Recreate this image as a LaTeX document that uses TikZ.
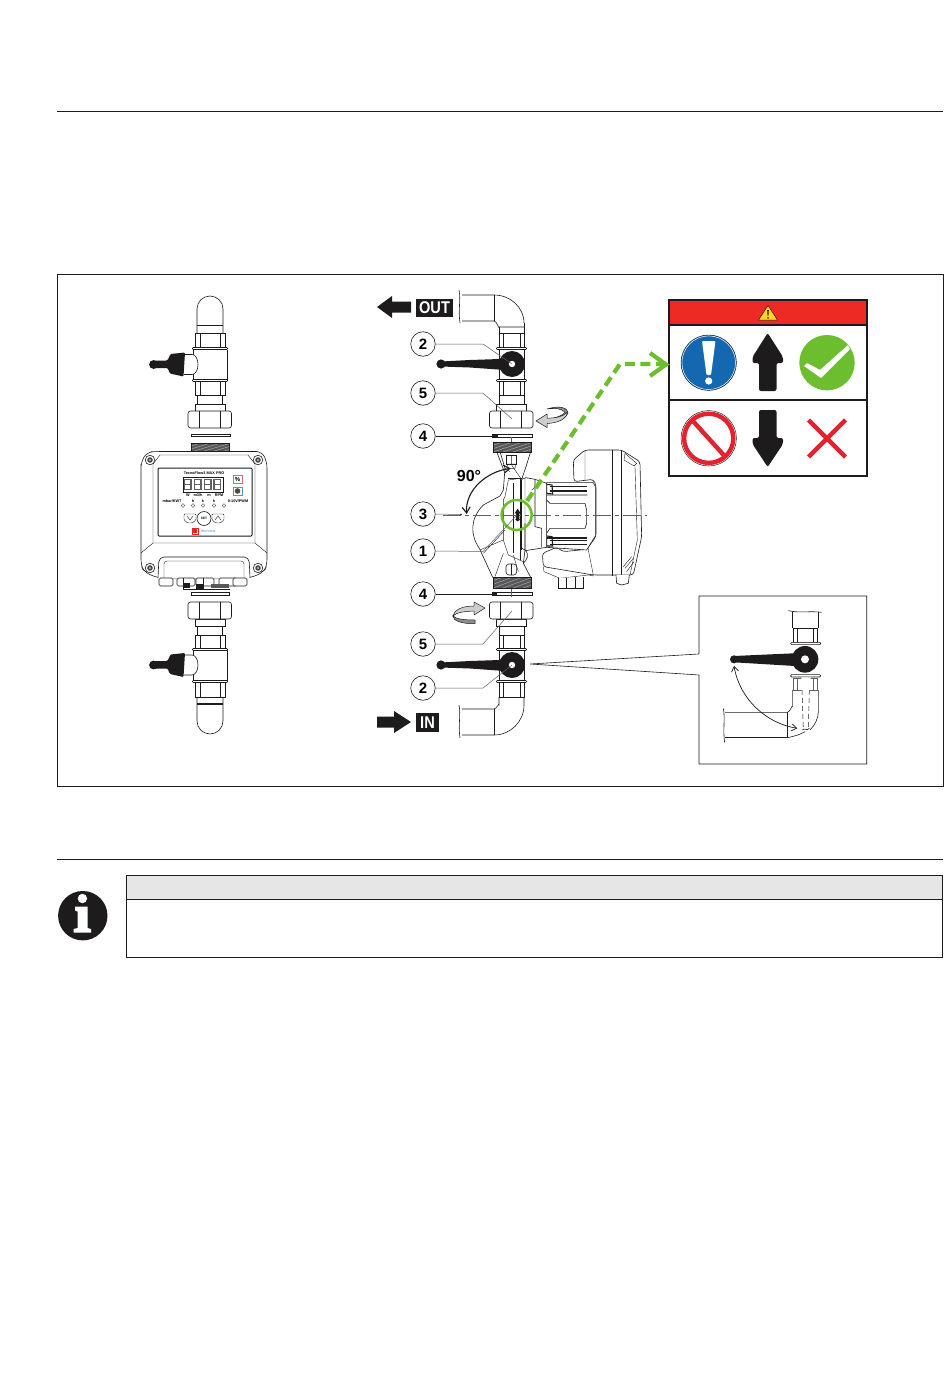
\documentclass[tikz,border=0pt]{standalone}
\usepackage{fontspec}
\setmainfont{Liberation Sans}
\usetikzlibrary{calc,arrows.meta}
\definecolor{gg}{HTML}{6CBE2E}
\definecolor{rr}{HTML}{EE2A24}
\definecolor{xr}{HTML}{E4222D}
\definecolor{bb}{HTML}{1468B0}
\definecolor{kk}{HTML}{1E1B1C}
\definecolor{thr}{HTML}{57575A}
\definecolor{yy}{HTML}{FFD420}
\tikzset{
  ln/.style={draw=kk,line width=0.6pt},
  thin1/.style={draw=kk,line width=0.4pt},
  frame1/.style={draw=kk,line width=0.8pt},
  leader/.style={draw=kk!70,line width=0.5pt},
  leaderk/.style={draw=kk,line width=0.6pt},
  callout/.style={circle,draw=kk,line width=0.6pt,fill=white,minimum size=24.5pt,inner sep=0pt,font=\bfseries\fontsize{15}{15}\selectfont},
  lab/.style={fill=kk,text=white,inner sep=0pt,font=\bfseries\fontsize{17}{17}\selectfont},
  devtxt/.style={inner sep=0pt,font=\bfseries\fontsize{3.8}{4}\selectfont},
}
% mirrored stack: #1 centre x, #2 yscale, #3 nut half width, #4 nut inner line, #5 body half width, #6 ring half width
\newcommand{\pipestack}[6]{%
 \begin{scope}[shift={(#1,515)},yscale=#2]
  \draw[ln,fill=white] (-#3,-182) rectangle (#3,-167);
  \draw[ln] (-#4,-182) -- (-#4,-167) (#4,-182) -- (#4,-167);
  \draw[ln] (-#5,-165.5) -- (-#5,-135) (#5,-165.5) -- (#5,-135);
  \draw[ln,fill=white] (-#3,-134) rectangle (#3,-120);
  \draw[ln] (-#4,-134) -- (-#4,-120) (#4,-134) -- (#4,-120);
  \draw[ln,fill=white,rounded corners=0.8pt] (-#6,-167.5) rectangle (#6,-165.5);
  \draw[ln,fill=white,rounded corners=0.8pt] (-#6,-135.5) rectangle (#6,-133.5);
  \draw[ln,fill=white] (-12.5,-120) rectangle (12.5,-111);
  \draw[ln,fill=white] (-15,-111) rectangle (15,-104);
  \draw[ln,fill=white,rounded corners=2.5pt] (-22,-104) rectangle (21.5,-87);
  \draw[ln] (-11,-104) -- (-11,-87) (10,-104) -- (10,-87);
 \end{scope}}
\newcommand{\thread}[4]{%
 \begin{scope}
  \clip (#1,#3) rectangle (#2,#4);
  \fill[thr] (#1,#3) rectangle (#2,#4);
  \foreach \d in {-20,-10,...,50}{
   \draw[kk!40,line width=0.5pt] ($(#1,#4)+(\d,0)$) -- ($(#1,#3)+(\d+30,0)$);}
 \end{scope}
 \draw[ln] (#1,#3) rectangle (#2,#4);}
\newcommand{\gasket}[3]{\draw[ln,fill=white] (#1,#3) rectangle (#2,#3+2.5);}
\newcommand{\mainhandle}[1]{%
 \fill[kk] (512,#1) circle (13);
 \fill[kk] (441,#1) circle (4.6);
 \fill[kk] (441,#1-2.5) -- (470,#1-4) -- (500,#1-5) -- (505,#1+6) -- (470,#1+3.5) -- (441,#1+2.5) -- cycle;
 \fill[white] (512,#1) circle (3.2);}
\newcommand{\sidehandle}[1]{%
 \begin{scope}[shift={(0,#1)}]
 \draw[ln,fill=white] (184,-10) -- (192,-10) arc (-90:90:6 and 10) -- (184,10);
 \fill[kk] (153.5,0) circle (4.4);
 \fill[kk,rounded corners=1pt] (153,-3.8) -- (167,-4) -- (168,-5) -- (170.5,-10.5) -- (185,-12) -- (183.5,12) -- (170,9) -- (167.5,3.5) -- (153,3.8) -- cycle;
 \end{scope}}
\begin{document}
\begin{tikzpicture}[x=1pt,y=-1pt]
\useasboundingbox (0,0) rectangle (950,1378);
\fill[white] (0,0) rectangle (950,1378);
% page rules and frames
\draw[frame1] (57,111) coordinate (r1a) -- (943,111) coordinate (r1b);
\draw[frame1] (57,859) coordinate (r2a) -- (943,859) coordinate (r2b);
\draw[draw=kk,line width=0.6pt] (57,274.5) rectangle (943,786.5);
\draw[frame1,fill=kk!11] (126.5,875) rectangle (942.7,899.5);
\draw[frame1] (126.5,899.5) rectangle (942.7,957.7);
% info icon
\fill[kk] (82.8,915.7) circle (24.7);
\fill[white] (82.4,898.5) circle (4.7);
\fill[white] (75,906.5) -- (87.5,906.5) -- (87.5,928) -- (91,929) -- (91,932.5) -- (73.5,932.5) -- (73.5,929) -- (77.5,928) -- (77.5,911.5) -- (75,910.5) -- cycle;
%
% LEFT ASSEMBLY
\draw[ln,fill=white] (197,333) -- (197,309) arc (180:360:13) -- (223,333);
\draw[kk,line width=1.4pt] (197,325.5) -- (223,325.5);
\draw[ln,fill=white] (197,697) -- (197,721) arc (180:0:13) -- (223,697);
\draw[kk,line width=1.4pt] (197,704) -- (223,704);
\pipestack{210}{1}{15}{10}{17}{17.5}
\pipestack{210}{-1}{15}{10}{17}{17.5}
\sidehandle{364.5}
\sidehandle{665}
\gasket{191}{230}{434}
\gasket{191}{229}{592.5}
\thread{191}{229}{443}{452}
% device
\draw[ln,fill=white,rounded corners=6pt] (141,470) -- (141,462) -- (147,452) -- (157,451.5) -- (262,451.5) -- (267,462) -- (267,565) -- (264,572) -- (250,578) -- (158,578) -- (144,572) -- (141,565) -- cycle;
\draw[thin1] (153,464) -- (153,543) -- (255,543) -- (255,464) (153,464) -- (160,455) -- (248,455) -- (255,464);
\draw[thin1] (141,553) -- (153,543) (267,553) -- (255,543);
\draw[ln,fill=white,rounded corners=5pt] (158,578) -- (159,557) -- (249,557) -- (250,578);
\draw[thin1,rounded corners=3pt] (164,578) -- (164,561) -- (244,561) -- (244,578);
% screws
\foreach \sx/\sy [count=\si] in {150/460,258/460,150/568,258/568}{
 \draw[ln,fill=white] (\sx,\sy) circle (4.8);
 \fill[kk!80] (\sx,\sy) circle (2.8);
 \fill[kk!30] (\sx,\sy) circle (1.1);
}
% cable glands
\foreach \g/\w in {166/7,186/9,205/9,228/9,240/7}{
 \draw[ln,fill=white,rounded corners=1.5pt] (\g-\w,578) rectangle (\g+\w,586);
}
\fill[kk] (183,583) rectangle (190,588);
\fill[kk] (196,584) rectangle (204,589);
\draw[ln] (183,578) -- (183,589) -- (230,589) (203,578) -- (203,589);
\fill[thr] (211,584) rectangle (229,588);
\gasket{191}{229}{592.5}
% panel
\draw[draw=kk,line width=1pt,fill=white,rounded corners=1pt] (158,468) rectangle (252,536);
\node[devtxt] (dtitle) at (204,473) {TecnoFlow3 MAX PRO};
\draw[thin1] (183,477) rectangle (223,492);
\foreach \dg in {192.5,202.5,212.5,222}{
 \draw[kk!70,line width=1.3pt] (\dg-8,479.5) rectangle (\dg-1.5,489.5);
 \draw[kk!70,line width=0.8pt] (\dg-8,484.5) -- (\dg-1.5,484.5);
}
\node[devtxt] (d1) at (188,495.5) {W};
\node[devtxt] (d2) at (198,495.5) {m3/h};
\node[devtxt] (d3) at (209,495.5) {m};
\node[devtxt] (d4) at (219,495.5) {RPM};
\node[devtxt] (d5) at (172,501.5) {mbar/KWT};
\node[devtxt] (d6) at (238,501.5) {0-10V/PWM};
\foreach \x in {183,193,203,214,224}{\draw[kk!80,line width=0.3pt,fill=white] (\x,505.5) circle (1.8);}
\foreach \x/\tt in {193/h,203/k,214/h}{\node[devtxt] at (\x,501.5) {\tt};}
\draw[thin1,rounded corners=1pt] (184,514) -- (196,514) -- (196,520) -- (192,523) -- (188,523) -- (184,520) -- cycle;
\draw[thin1] (187,516) -- (190,520) -- (193,516);
\draw[thin1,rounded corners=1pt] (212,514) -- (224,514) -- (224,520) -- (220,523) -- (216,523) -- (212,520) -- cycle;
\draw[thin1] (215,520) -- (218,516) -- (221,520);
\draw[ln,fill=white] (204,518.5) circle (7);
\node[devtxt,font=\bfseries\fontsize{3.2}{3}\selectfont] (dset) at (204,518.5) {SET};
\draw[xr,line width=0.5pt] (192,528) rectangle (198,534);
\fill[xr] (195,531) circle (2.4);
\node[inner sep=0pt,text=bb!70,font=\fontsize{4}{4}\selectfont] (dlogo) at (208,531) {tecnova};
\draw[xr!70,line width=0.4pt] (233,475) rectangle (242,483);
\node[devtxt,font=\bfseries\fontsize{6}{6}\selectfont] (dpct) at (237.5,479) {\%};
\draw[bb!70,line width=0.4pt] (233,487) rectangle (242,495);
\fill[kk!80] (237.5,491) circle (2.8);
%
% MAIN PIPE
% upper elbow
\draw[ln] (499,333) -- (499,327) (524,333) -- (524,323);
\draw[ln] (462,295) -- (494,295) arc (-90:0:30 and 28) (462,321) -- (494,321) to[out=0,in=270] (499,327) -- (524,327);
\draw[ln] (494,295) -- (494,321);
\draw[ln] (459,290) .. controls (461,300) and (458,310) .. (460,323);
% lower elbow
\draw[ln] (499,697) -- (499,705) to[out=90,in=0] (494,709) -- (462,709) (524,697) -- (524,705) arc (0:90:30 and 30) -- (462,735);
\draw[ln] (494,709) -- (494,735);
\draw[ln] (459,705) .. controls (461,715) and (458,725) .. (460,738);
\pipestack{511.5}{1}{12.5}{8.5}{12.5}{15}
\pipestack{511.5}{-1}{12.5}{8.5}{12.5}{15}
\mainhandle{364}
\mainhandle{665}
\gasket{492}{532}{434.5}
\fill[kk] (492,434.5) rectangle (498,437);
\gasket{492}{532}{592.5}
\fill[kk] (492,592.5) rectangle (497,595);
% PUMP in zoom coords
\begin{scope}[shift={(450,440)},xscale=.3333,yscale=.3333]
 % motor head
 \draw[ln,fill=white,rounded corners=3pt] (372,125) -- (370,60) -- (405,30) -- (515,30) -- (570,65) -- (575,290) -- (550,405) -- (430,405) -- (280,380) -- (277,340) -- (320,322) -- (340,335) -- (410,328) -- (438,290) -- (438,135) -- (430,118) -- cycle;
 \draw[ln] (487,30) -- (487,408) (515,30) -- (515,408);
 \draw[thin1] (525,40) -- (560,70) -- (552,78) -- (522,60) -- cycle;
 \draw[thin1] (405,30) -- (405,120) (555,80) -- (562,300) -- (540,405);
 \draw[thin1] (410,275) -- (415,330) -- (430,405);
 \draw[thin1] (525,385) -- (550,355) (530,395) -- (552,365) (520,380) -- (545,350);
 \draw[thin1] (280,380) -- (282,395) -- (330,415) -- (415,405) (415,405) -- (432,408);
 % neck
 \draw[ln,fill=white] (290,128) -- (430,128) -- (436,140) -- (436,288) -- (410,330) -- (290,322) -- cycle;
 \draw[ln] (290,165) -- (412,165) (290,180) -- (300,190) -- (405,190) -- (410,210) -- (410,250) -- (405,265) -- (300,265) -- (290,280);
 \draw[thin1] (300,140) -- (410,140) (300,150) -- (410,150) (300,300) -- (410,300) (300,312) -- (410,312);
 \draw[kk,line width=1.1pt] (290,133) -- (290,160) -- (308,162) -- (306,135) -- cycle;
 \draw[kk,line width=1.1pt] (290,288) -- (290,318) -- (308,318) -- (306,290) -- cycle;
 \fill[kk] (300,150) rectangle (410,156);
 \fill[kk] (290,290) rectangle (410,296);
 % feet
 \draw[ln,fill=white] (325,415) -- (325,445) -- (400,445) -- (400,410);
 \draw[thin1] (350,415) -- (350,445) (375,412) -- (375,445);
 \draw[ln,fill=white] (498,405) -- (500,430) -- (515,435) -- (535,430) -- (538,405);
 % flange
 \draw[ln,fill=white] (215,118) -- (228,113) -- (255,118) -- (290,130) -- (290,322) -- (225,332) -- (215,325) -- cycle;
 \draw[ln] (255,118) -- (255,260) -- (275,265) -- (275,322);
 \draw[thin1] (225,115) -- (225,330) (245,150) -- (275,125);
 % volute
 \draw[ln,fill=white] (150,35) -- (165,85) -- (160,150) -- (150,168) -- (100,195) .. controls (60,235) and (60,285) .. (88,325) -- (128,412) -- (242,412) -- (220,370) -- (225,330) -- (215,325) -- (215,118) -- (228,80) -- (242,35) -- cycle;
 \draw[ln] (140,35) -- (163,95);
 \draw[thin1] (165,85) -- (180,95) (185,75) -- (212,115) -- (175,120) -- (165,170) -- (160,180) -- (160,300) -- (175,345) -- (220,365);
 \draw[thin1] (175,115) -- (215,115) (190,130) -- (190,340) (210,118) -- (210,360) (215,120) -- (215,330);
 \draw[thin1] (90,330) -- (160,300) (100,340) -- (165,270);
 \draw[ln] (225,250) -- (225,330) .. controls (240,345) and (230,360) .. (220,370);
 \draw[thin1] (190,345) -- (205,395) (160,340) -- (135,410);
 % bolts
 \draw[ln,fill=white] (170,45) rectangle (200,72);
 \draw[thin1] (185,45) -- (185,72) (172,72) -- (198,72) -- (195,85) -- (175,85) -- cycle;
 \draw[ln,fill=white,rounded corners=3pt] (168,372) rectangle (200,405);
 \draw[thin1] (183,372) -- (183,405);
 % center line
 \draw[kk!70,line width=0.5pt,dash pattern=on 18pt off 4pt on 4pt off 4pt] (-20,225) -- (590,225);
 \draw[kk!70,line width=0.4pt] (185,-10) -- (185,5) (185,445) -- (185,470);
 % flow arrow
 \fill[kk] (203,206) -- (212,220) -- (208,220) -- (208,238) -- (212,238) -- (203,244) -- (194,238) -- (198,238) -- (198,220) -- (194,220) -- cycle;
 % green ring
 \draw[gg,line width=2.6pt] (200,225) circle (45);
 % 90 deg arrow
 \coordinate (ar1) at (50,222);
 \coordinate (ar2) at (182,85);
 \draw[kk,line width=1.1pt,{Straight Barb[length=6pt,width=8pt]}-{Straight Barb[length=6pt,width=8pt]}] (ar1) .. controls (45,150) and (110,95) .. (ar2);
\end{scope}
\thread{493}{531}{442}{452}
\thread{493}{531}{577}{588}
\node[inner sep=0pt,font=\bfseries\fontsize{16}{16}\selectfont] (n90) at (469,476) {90°};
% callouts
\node[callout] (c2a) at (423,344) {2};
\node[callout] (c5a) at (423,393) {5};
\node[callout] (c4a) at (423,436) {4};
\node[callout] (c3) at (423,514) {3};
\node[callout] (c1) at (423,551) {1};
\node[callout] (c4b) at (423,594) {4};
\node[callout] (c5b) at (423,644) {5};
\node[callout] (c2b) at (423,688) {2};
\coordinate (t2a) at (512,364);
\coordinate (t5a) at (512,419);
\coordinate (t4a) at (492,436);
\coordinate (t3) at (461,514.5);
\coordinate (t1) at (517,515);
\coordinate (t4b) at (492,594);
\coordinate (t5b) at (512,611);
\coordinate (t2b) at (512,665);
\draw[leader] (c2a.east) -- (483,344) -- (t2a);
\draw[leader] (c5a.east) -- (483,393) -- (t5a);
\draw[leaderk] (c4a.east) -- (t4a);
\draw[leader] (c3.east) -- (t3);
\fill[kk] (t3) circle (0.9);
\draw[leader] (c1.east) -- (483,551.5) -- (t1);
\draw[leaderk] (c4b.east) -- (t4b);
\draw[leader] (c5b.east) -- (483,644) -- (t5b);
\draw[leader] (c2b.east) -- (483,688) -- (t2b);
% OUT / IN
\fill[kk] (377,307) -- (392,296) -- (392,301.5) -- (411,301.5) -- (411,312.5) -- (392,312.5) -- (392,318) -- cycle;
\node[lab,minimum width=37pt,minimum height=18.5pt] (outl) at (434.5,307.8) {\scalebox{.86}[1]{OUT}};
\fill[kk] (411,722) -- (394,711) -- (394,716.5) -- (377,716.5) -- (377,727.5) -- (394,727.5) -- (394,733) -- cycle;
\node[lab,minimum width=23pt,minimum height=18.5pt] (inl) at (427.5,722.5) {\scalebox{.86}[1]{IN}};
% rotation arrows
\draw[kk,line width=0.5pt,fill=kk!50] (547,409) .. controls (560,405) and (568,408) .. (568,413) .. controls (566,419) and (560,420) .. (547,420) .. controls (558,417) and (564,415) .. (565,412) .. controls (560,408) and (555,408) .. (547,409) -- cycle;
\draw[kk,line width=0.5pt,fill=kk!22] (536,421) -- (547,414) -- (547,418) .. controls (556,418.5) and (564,416) .. (567.5,412) .. controls (567,419) and (558,423) .. (547,423.5) -- (547,427.5) -- cycle;
\draw[kk,line width=0.5pt,fill=kk!22] (485,608) -- (474,602) -- (474,606) .. controls (462,606) and (454,610) .. (453,616) .. controls (457,612) and (465,611.5) .. (474,611) -- (474,615) -- cycle;
\draw[kk,line width=0.5pt,fill=kk!50] (453,616) .. controls (453,621) and (462,624) .. (475,623.5) -- (475,620) .. controls (464,620) and (456,619) .. (453,616) -- cycle;
% SIGN PANEL
\fill[rr] (669,300) rectangle (867,325);
\draw[draw=kk,line width=1.3pt] (669,300) rectangle (867,476);
\draw[draw=kk,line width=1.3pt] (669,325) -- (867,325) (669,400) -- (867,400);
\draw[kk,line width=0.5pt,fill=yy,line join=round] (768,305.5) -- (777.5,320) -- (758.5,320) -- cycle;
\fill[kk] (767.2,310) -- (768.8,310) -- (768.4,316) -- (767.6,316) -- cycle;
\fill[kk] (768,318) circle (0.8);
% blue
\draw[kk,line width=0.5pt,fill=bb] (708.7,362.7) circle (27.7);
\draw[white,line width=0.5pt] (708.7,362.7) circle (26.8);
\fill[white,rounded corners=1pt] (702,341) -- (715.5,341) -- (711,375) -- (706.5,375) -- cycle;
\fill[white] (708.7,381) circle (3.6);
% up arrow
\fill[kk,rounded corners=2pt] (767.7,333) -- (783,357) -- (783,363) -- (776.5,363) -- (776.5,391) -- (759,391) -- (759,363) -- (752.5,363) -- (752.5,357) -- cycle;
% green tick
\fill[gg] (827,362.7) circle (27.7);
\fill[white,rounded corners=0.6pt] (804,366) -- (807,363) -- (820,370) -- (848,345) -- (850,349) -- (821,378) -- cycle;
% prohibition
\draw[kk,line width=0.5pt,fill=white] (708.7,438.3) circle (27.7);
\draw[xr,line width=4.4pt] (708.7,438.3) circle (24.6);
\draw[xr,line width=4.4pt] (692,420) -- (725,456.5);
% down arrow
\fill[kk,rounded corners=2pt] (767.7,467) -- (783,444) -- (783,438) -- (776.5,438) -- (776.5,410) -- (759,410) -- (759,438) -- (752.5,438) -- (752.5,444) -- cycle;
% red X
\draw[xr,line width=4.5pt] (808.5,420) -- (845.5,457) (845.5,420) -- (808.5,457);
% green dashes
\coordinate (gstart) at (527,501);
\coordinate (gmid) at (620,364);
\coordinate (gtip) at (667,364);
\draw[gg,line width=4.2pt,dash pattern=on 10pt off 5.5pt] (gstart) -- (gmid) -- (gtip);
\draw[gg,line width=4.2pt] (650,353) -- (666,364.5) -- (650,376);
% INSET
\begin{scope}[shift={(690,590)},xscale=.3333,yscale=.3333]
 \coordinate (i1) at (27,192);
 \coordinate (i2) at (27,255);
 \coordinate (iapex) at (-480,222);
 \draw[kk,line width=0.7pt] (i1) -- (27,18) -- (530,18) -- (530,522) -- (27,522) -- (i2);
 \draw[kk,line width=0.6pt] (iapex) -- (i1) (iapex) -- (i2);
 % pipe
 \draw[kk!60,line width=0.5pt] (307,300) -- (307,350) (385,300) -- (385,365);
 \draw[ln] (307,65) -- (307,115) (385,65) -- (385,115);
 \draw[ln] (295,62) .. controls (330,70) and (360,62) .. (395,67);
 \draw[ln,fill=white] (310,115) rectangle (382,158);
 \draw[ln] (322,115) -- (322,158) (370,115) -- (370,158);
 \draw[ln,fill=white,rounded corners=1pt] (302,157) rectangle (392,164);
 \draw[ln,fill=white,rounded corners=1pt] (302,254) rectangle (392,261);
 \draw[kk!70,line width=0.5pt] (310,265) rectangle (382,300) (322,265) -- (322,300) (370,265) -- (370,300);
 \draw[ln] (105,367) -- (292,367) to[out=0,in=90] (307,350);
 \draw[ln] (105,443) -- (292,443);
 \draw[ln] (292,367) -- (292,443);
 \draw[ln] (292,443) .. controls (310,440) and (335,432) .. (345,425);
 \draw[ln] (360,420) .. controls (375,405) and (385,385) .. (385,365);
 \draw[ln] (100,355) .. controls (106,385) and (98,420) .. (104,458);
 \fill[white] (334,262) -- (362,262) -- (357,400) -- (337,400) -- cycle;
 \draw[kk,line width=0.5pt,dash pattern=on 5pt off 3pt] (336,300) -- (340,415) (358,300) -- (355,415);
 \draw[ln] (337,420) .. controls (345,412) and (350,425) .. (358,415);
 % handle
 \fill[kk] (345,208) circle (40);
 \fill[white] (345,208) circle (12);
 \fill[kk] (132,208) circle (12);
 \fill[kk] (132,198) -- (310,190) -- (315,228) -- (132,217) -- cycle;
 \coordinate (ia) at (132,228);
 \coordinate (ib) at (322,415);
 \draw[kk,line width=0.7pt,{Straight Barb[length=5pt,width=7pt]}-{Straight Barb[length=5pt,width=7pt]}] (ia) .. controls (150,330) and (230,400) .. (ib);
\end{scope}
\end{tikzpicture}
\end{document}
